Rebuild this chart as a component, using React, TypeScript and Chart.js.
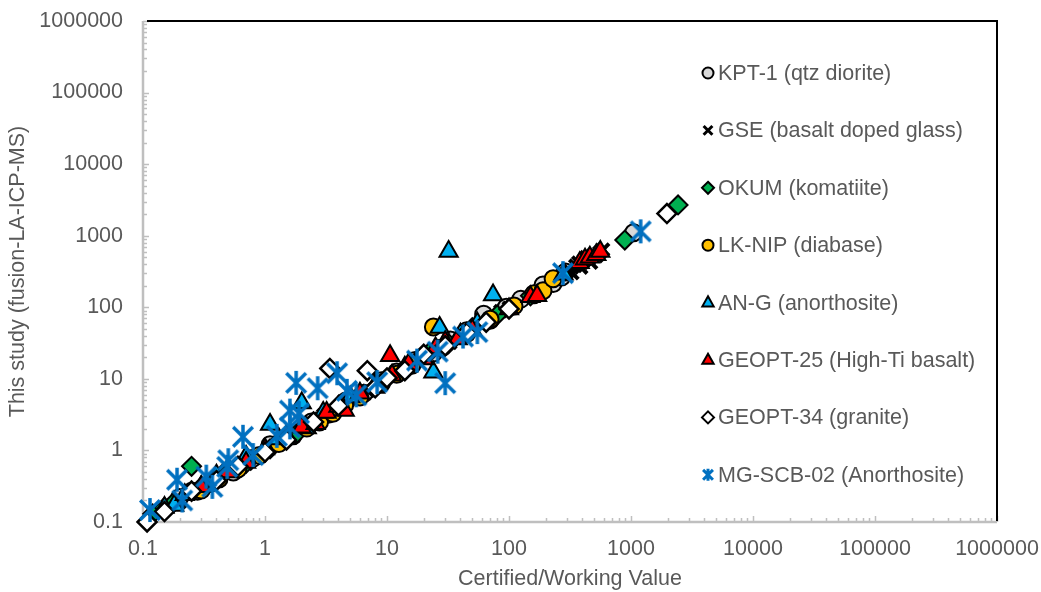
import React, { useEffect, useRef } from "react";
import { Chart, registerables } from "chart.js";

Chart.register(...registerables);

// ---- data (certified value, measured value) ----
const seriesNames = [
  "KPT-1 (qtz diorite)",
  "GSE (basalt doped glass)",
  "OKUM (komatiite)",
  "LK-NIP (diabase)",
  "AN-G (anorthosite)",
  "GEOPT-25 (High-Ti basalt)",
  "GEOPT-34 (granite)",
  "MG-SCB-02 (Anorthosite)",
];

const kpt1 = [[0.2,0.22],[0.28,0.27],[0.36,0.35],[0.55,0.5],[0.8,0.78],[1.1,1.2],[1.7,1.6],[2.4,2.5],[3.3,3.2],[4.6,4.9],[6.5,6.3],[9,9.4],[12,12.5],[17,18],[24,23],[33,35],[45,47],[62,80],[70,66],[95,100],[125,130],[160,150],[190,205],[230,215],[270,265],[290,310],[1050,1100]];
const gse = [[0.2,0.19],[0.7,0.65],[1.5,1.45],[2.1,2],[3,3.1],[7,6.8],[12,12.5],[20,21],[33,32],[45,47],[85,88],[100,98],[310,330],[330,300],[350,380],[370,420],[390,360],[410,450],[430,500],[450,470],[470,420],[490,540],[520,520],[550,580],[590,640]];
const okum = [[0.12,0.13],[0.15,0.16],[0.18,0.19],[0.25,0.6],[0.3,0.31],[0.45,0.47],[0.7,0.66],[1.1,1.05],[1.8,1.7],[3.2,3.3],[5,5.2],[8,7.6],[13,12.5],[22,23],[32,31],[50,52],[80,78],[150,145],[890,870],[2430,2690]];
const lknip = [[0.25,0.27],[0.3,0.28],[0.42,0.4],[0.6,0.55],[0.9,0.85],[1.3,1.25],[2.2,2.05],[2.8,2.5],[3.6,3.3],[4.5,4.3],[6,5.6],[9,8.6],[12,11.6],[16,15.5],[24,53],[28,27],[45,43],[70,68],[110,104],[160,155],[190,170],[230,250]];
const ang = [[0.15,0.16],[0.18,0.17],[0.22,0.24],[0.3,0.31],[0.4,0.45],[0.5,0.56],[0.7,0.82],[1.1,2.3],[1.3,1.45],[2,4.6],[2.2,2.05],[3,3.4],[5,5.6],[8,7.6],[14,14.5],[24,12.4],[27,52],[32,600],[40,42],[55,60],[74,148],[280,290]];
const geopt25 = [[0.3,0.31],[0.5,0.5],[0.7,0.68],[1.0,1.05],[1.5,1.6],[2,2.1],[2.6,2.35],[3.2,3.4],[4,4.1],[4.5,3.6],[6,6.3],[8,8.2],[10.6,21],[11,11.2],[15,16],[20,19],[25,27],[30,33],[38,36],[50,48],[100,95],[150,140],[170,145],[380,420],[420,470],[460,500],[520,540],[560,600]];
const geopt34 = [[0.108,0.1],[0.15,0.14],[0.25,0.27],[0.4,0.38],[0.6,0.6],[1,0.95],[1.5,1.4],[2.5,2.5],[3.4,14],[4,4.2],[6.9,13],[8,7.5],[10,10.3],[14,13],[20,22],[30,29],[45,44],[65,62],[100,95],[1970,2040]];
const mgscb = [[0.114,0.147],[0.19,0.39],[0.21,0.2],[0.33,0.43],[0.37,0.31],[0.49,0.59],[0.5,0.73],[0.66,1.55],[0.8,0.86],[1.25,1.6],[1.6,2.1],[1.6,3.6],[1.9,3.3],[1.8,8.8],[2.7,7.4],[3.9,12],[4.7,6.8],[5.6,5.9],[8.3,9],[17.6,18],[26,24],[30,8.7],[42,39],[55,45],[277,300],[1200,1150]];

const tickValues = [0.1, 1, 10, 100, 1000, 10000, 100000, 1000000];
const tickLabels = ["0.1", "1", "10", "100", "1000", "10000", "100000", "1000000"];

const xTitle = "Certified/Working Value";
const yTitle = "This study (fusion-LA-ICP-MS)";

// ---- styles ----
const FONT = "'Liberation Sans', Arial, sans-serif";
const FS = 21.5;
const TEXT = "#595959";
const AXIS_GRAY = "#BFBFBF";

type Style = { shape: string; fill: string; stroke: string; lw: number; r: number; lr: number };
const styles: Style[] = [
  { shape: "circle", fill: "#D9D9D9", stroke: "#000000", lw: 2, r: 8.5, lr: 5.5 },
  { shape: "crossRot", fill: "#000000", stroke: "#000000", lw: 4, r: 8.5, lr: 5.5 },
  { shape: "rectRot", fill: "#00B050", stroke: "#000000", lw: 2, r: 9.5, lr: 6 },
  { shape: "circle", fill: "#FFC000", stroke: "#000000", lw: 2, r: 8.5, lr: 5.5 },
  { shape: "triangle", fill: "#00B0F0", stroke: "#000000", lw: 2, r: 10.5, lr: 7 },
  { shape: "triangle", fill: "#FF0000", stroke: "#000000", lw: 2, r: 10.5, lr: 7 },
  { shape: "rectRot", fill: "#FFFFFF", stroke: "#000000", lw: 2.5, r: 9.5, lr: 6 },
  { shape: "asterisk", fill: "#0070C0", stroke: "#0070C0", lw: 3.5, r: 12, lr: 6 },
];
const seriesData = [kpt1, gse, okum, lknip, ang, geopt25, geopt34, mgscb];

function makeAsterisk(r: number, lw: number, color: string) {
  const s = Math.ceil(2 * r + lw + 2);
  const c = document.createElement("canvas");
  c.width = s;
  c.height = s;
  const g = c.getContext("2d")!;
  drawAsterisk(g, s / 2, s / 2, r, lw, color);
  return c;
}

function drawAsterisk(g: CanvasRenderingContext2D, cx: number, cy: number, r: number, lw: number, color: string) {
  g.save();
  g.strokeStyle = color;
  g.lineWidth = lw;
  g.lineCap = "butt";
  const d = r * 0.82;
  g.beginPath();
  g.moveTo(cx, cy - r);
  g.lineTo(cx, cy + r);
  g.moveTo(cx - d, cy - d);
  g.lineTo(cx + d, cy + d);
  g.moveTo(cx - d, cy + d);
  g.lineTo(cx + d, cy - d);
  g.stroke();
  g.restore();
}

function drawMarker(ctx: CanvasRenderingContext2D, st: Style, x: number, y: number) {
  const r = st.lr;
  ctx.save();
  ctx.fillStyle = st.fill;
  ctx.strokeStyle = st.stroke;
  ctx.lineWidth = st.shape === "crossRot" ? 3 : 2;
  ctx.beginPath();
  if (st.shape === "circle") {
    ctx.arc(x, y, r, 0, Math.PI * 2);
    ctx.fill();
    ctx.stroke();
  } else if (st.shape === "rectRot") {
    ctx.moveTo(x, y - r);
    ctx.lineTo(x + r, y);
    ctx.lineTo(x, y + r);
    ctx.lineTo(x - r, y);
    ctx.closePath();
    ctx.fill();
    ctx.stroke();
  } else if (st.shape === "triangle") {
    const h = r * 0.9;
    ctx.moveTo(x, y - h);
    ctx.lineTo(x + h * 0.9, y + h * 0.6);
    ctx.lineTo(x - h * 0.9, y + h * 0.6);
    ctx.closePath();
    ctx.fill();
    ctx.stroke();
  } else if (st.shape === "crossRot") {
    const d = r * 0.8;
    ctx.moveTo(x - d, y - d);
    ctx.lineTo(x + d, y + d);
    ctx.moveTo(x - d, y + d);
    ctx.lineTo(x + d, y - d);
    ctx.stroke();
  } else {
    drawAsterisk(ctx, x, y, r, 3, st.stroke);
  }
  ctx.restore();
}

const framePlugin = {
  id: "frame",
  beforeDatasetsDraw(chart: any) {
    const { ctx, chartArea } = chart;
    const { left, right, top, bottom } = chartArea;
    const xs = chart.scales.x;
    const ys = chart.scales.y;
    ctx.save();
    // minor / major ticks pointing inside
    ctx.strokeStyle = AXIS_GRAY;
    ctx.lineWidth = 1.5;
    ctx.beginPath();
    for (let e = -1; e <= 6; e++) {
      for (let m = 1; m <= 9; m++) {
        const v = m * Math.pow(10, e);
        if (v > 1000000 * 1.0001) break;
        const len = m === 1 ? 6 : 4;
        const px = Math.round(xs.getPixelForValue(v)) + 0.5;
        ctx.moveTo(px, bottom);
        ctx.lineTo(px, bottom - len);
        const py = Math.round(ys.getPixelForValue(v)) + 0.5;
        ctx.moveTo(left, py);
        ctx.lineTo(left + len, py);
      }
    }
    ctx.stroke();
    // gray left & bottom axis lines
    ctx.lineWidth = 2.5;
    ctx.beginPath();
    ctx.moveTo(left, top);
    ctx.lineTo(left, bottom);
    ctx.lineTo(right, bottom);
    ctx.stroke();
    // black top & right border
    ctx.strokeStyle = "#000000";
    ctx.lineWidth = 2;
    ctx.beginPath();
    ctx.moveTo(left + 4, top);
    ctx.lineTo(right, top);
    ctx.lineTo(right, bottom - 1);
    ctx.stroke();
    ctx.restore();
  },
  afterDraw(chart: any) {
    const { ctx } = chart;
    ctx.save();
    ctx.font = `${FS}px ${FONT}`;
    ctx.fillStyle = TEXT;
    ctx.textBaseline = "middle";
    ctx.textAlign = "left";
    const y0 = 73;
    const step = 57.4;
    seriesNames.forEach((name, i) => {
      const y = y0 + i * step;
      drawMarker(ctx, styles[i], 708, y);
      ctx.fillStyle = TEXT;
      ctx.fillText(name, 718, y + 1);
    });
    ctx.restore();
  },
};

const zeroPad = (scale: any) => {
  scale.paddingLeft = 0;
  scale.paddingRight = 0;
  scale.paddingTop = 0;
  scale.paddingBottom = 0;
};

const labelFor = (v: any) => {
  const idx = tickValues.findIndex((t) => Math.abs(t - Number(v)) < t * 1e-6);
  return idx >= 0 ? tickLabels[idx] : "";
};

export default function App() {
  const ref = useRef<HTMLCanvasElement | null>(null);

  useEffect(() => {
    document.body.style.margin = "0";
    const canvas = ref.current;
    if (!canvas) return;
    const datasets = seriesNames.map((name, i) => {
      const st = styles[i];
      const pointStyle: any = st.shape === "asterisk" ? makeAsterisk(st.r, st.lw, st.stroke) : st.shape;
      return {
        label: name,
        data: seriesData[i].map(([x, y]) => ({ x, y })),
        pointStyle,
        pointRadius: st.r,
        pointHoverRadius: st.r,
        backgroundColor: st.fill,
        borderColor: st.stroke,
        borderWidth: st.lw,
        order: seriesNames.length - i,
        clip: false as any,
        showLine: false,
      };
    });

    const chart = new Chart(canvas, {
      type: "scatter",
      data: { datasets },
      plugins: [framePlugin],
      options: {
        animation: false,
        responsive: false,
        maintainAspectRatio: false,
        events: [],
        layout: { padding: { top: 21, right: 44, left: 0, bottom: 0 } },
        plugins: { legend: { display: false }, tooltip: { enabled: false } },
        scales: {
          x: {
            type: "logarithmic",
            min: 0.1,
            max: 1000000,
            afterBuildTicks: (scale: any) => {
              scale.ticks = tickValues.map((v) => ({ value: v }));
            },
            afterFit: (scale: any) => {
              scale.height = 70;
              zeroPad(scale);
            },
            ticks: {
              autoSkip: false,
              maxRotation: 0,
              padding: 14,
              color: TEXT,
              font: { family: FONT, size: FS },
              callback: labelFor,
            },
            grid: { display: false, drawTicks: false },
            border: { display: false },
            title: {
              display: true,
              text: xTitle,
              color: TEXT,
              font: { family: FONT, size: FS },
              padding: { top: 0, bottom: 0 },
            },
          },
          y: {
            type: "logarithmic",
            min: 0.1,
            max: 1000000,
            afterBuildTicks: (scale: any) => {
              scale.ticks = tickValues.map((v) => ({ value: v }));
            },
            afterFit: (scale: any) => {
              scale.width = 143;
              zeroPad(scale);
            },
            ticks: {
              autoSkip: false,
              padding: 20,
              color: TEXT,
              font: { family: FONT, size: FS },
              callback: labelFor,
            },
            grid: { display: false, drawTicks: false },
            border: { display: false },
            title: {
              display: true,
              text: yTitle,
              color: TEXT,
              font: { family: FONT, size: FS },
              padding: { top: 5, bottom: 0 },
            },
          },
        },
      } as any,
    });
    return () => chart.destroy();
  }, []);

  return (
    <div style={{ width: 1041, height: 592, background: "#fff" }}>
      <canvas ref={ref} width={1041} height={592} style={{ display: "block" }} />
    </div>
  );
}
